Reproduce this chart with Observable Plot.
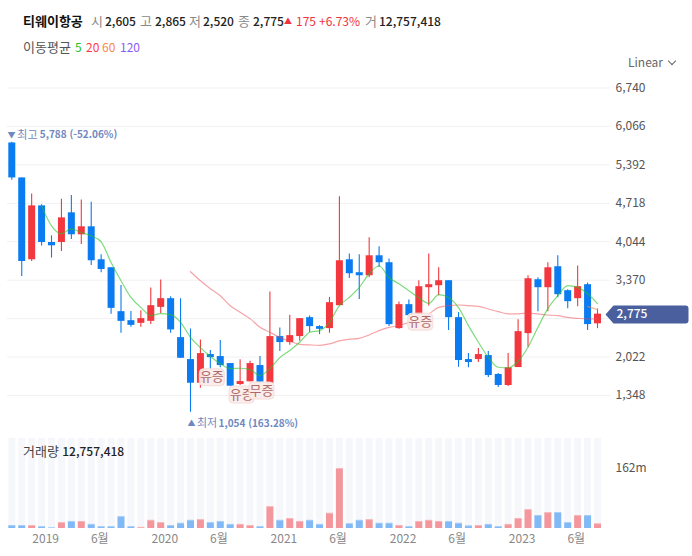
<!DOCTYPE html>
<html lang="ko">
<head>
<meta charset="utf-8">
<script src="https://cdn.jsdelivr.net/npm/d3@7"></script>
<script src="https://cdn.jsdelivr.net/npm/@observablehq/plot@0.6"></script>
<style>
html,body{margin:0;padding:0;background:#fff;width:692px;height:556px;overflow:hidden}
body{position:relative;font-family:"Noto Sans CJK KR","Noto Sans",sans-serif;font-size:12px;color:#222}
#main,#vol{position:absolute;left:0}
#main{top:0}#vol{top:430px}
svg{display:block}
.h{position:absolute;white-space:nowrap;line-height:16px}
.g{color:#8a8a8a;font-size:13px}.k{color:#222;font-weight:500}.r{color:#f0323c}
</style>
</head>
<body>
<div id="main"></div>
<div id="vol"></div>
<div class="h" style="left:23px;top:13px;font-weight:700;color:#111;font-size:13px">티웨이항공</div>
<div class="h g" style="left:91px;top:13px">시</div><div class="h k" style="left:105px;top:13px">2,605</div>
<div class="h g" style="left:140px;top:13px">고</div><div class="h k" style="left:155px;top:13px">2,865</div>
<div class="h g" style="left:189px;top:13px">저</div><div class="h k" style="left:203px;top:13px">2,520</div>
<div class="h g" style="left:238px;top:13px">종</div><div class="h k" style="left:253px;top:13px">2,775</div>
<div class="h r" style="left:284px;top:13px;font-size:8px">▲</div>
<div class="h r" style="left:296px;top:13px">175</div><div class="h r" style="left:319px;top:13px">+6.73%</div>
<div class="h g" style="left:365px;top:13px">거</div><div class="h k" style="left:379px;top:13px">12,757,418</div>
<div class="h" style="left:23px;top:39px;color:#555;font-size:13px">이동평균</div>
<div class="h" style="left:75px;top:39px;color:#22c322">5</div>
<div class="h" style="left:86px;top:39px;color:#ff3b4a">20</div>
<div class="h" style="left:102px;top:39px;color:#f98a4b">60</div>
<div class="h" style="left:120px;top:39px;color:#8a5cf6">120</div>
<div class="h" style="left:628px;top:54px;color:#666">Linear</div>
<div style="position:absolute;left:669px;top:58px;width:5px;height:5px;border-right:1px solid #666;border-bottom:1px solid #666;transform:rotate(45deg)"></div>
<div class="h" style="left:23px;top:443px;color:#444"><span style="font-size:13px">거래량</span> <span style="font-weight:500;color:#222">12,757,418</span></div>
<script>
const months = d3.utcMonth.range(new Date(Date.UTC(2018,8,1)), new Date(Date.UTC(2023,8,1))).map(d3.utcFormat("%Y-%m"));
const open  = [5776,5163,3728,4673,4031,4031,4551,4166,4306,3728,3588,2818,2660,2613,2648,2893,3046,2363,1978,1563,2066,2031,1908,1541,1588,1873,1553,2381,2276,2381,2713,2556,2521,2923,3728,3501,3448,3798,3676,2521,2941,2766,3238,3273,3361,2713,1978,1978,2048,1716,1523,1838,2433,3378,3238,3606,3186,3046,3291,2605];
const high  = [5788,5163,4883,4691,4148,4790,4853,4778,4738,3816,3588,3278,2823,2836,3233,3373,3081,3046,2515,2323,2136,2311,1908,1973,1948,2031,3163,2533,2753,2696,2743,2573,3068,4831,3828,3816,4113,3956,3740,2988,3023,3361,3828,3588,3361,2801,2083,2171,2118,1733,2083,2678,3448,3413,3676,3798,3203,3618,3320,2865];
const low   = [5123,3436,3698,3968,3758,3873,4083,3996,3628,3501,2771,2438,2543,2543,2591,2788,2438,2001,1054,1476,1786,1833,1511,1523,1588,1558,1553,2118,2228,2298,2456,2416,2438,2923,3401,3033,3413,3593,2556,2508,2700,2740,2918,3098,2486,1843,1833,1926,1663,1488,1506,1838,2193,2818,2818,3063,2871,2906,2486,2520];
const close = [5163,3698,4673,4031,3973,4463,4166,4306,3711,3558,2876,2648,2578,2696,2923,3046,2498,2001,1563,2083,2013,1873,1511,1593,1908,1581,2381,2276,2398,2696,2556,2508,2976,3711,3483,3448,3798,3676,2591,2941,2748,3256,3291,3361,2713,1961,1926,2066,1698,1523,1833,2468,3396,3238,3588,3116,2993,3256,2591,2775];
const volume = [8,8,8,5,2,16,19,19,11,5,5,32,5,3,22,16,8,14,22,24,16,19,11,11,8,5,59,22,27,19,22,11,41,162,13,22,24,14,14,8,5,19,22,19,19,14,7,8,11,5,11,27,51,35,43,43,16,35,35,12.757];
const ma5 = [4673,4323,4183,4271,4206,4148,4043,3681,3360,3068,2893,2748,2783,2766,2631,2368,2188,2031,1908,1820,1826,1803,1698,1820,2013,2136,2281,2456,2486,2631,2923,3068,3243,3483,3623,3413,3308,3186,3063,2963,3116,3068,2888,2573,2281,2018,1843,1833,1948,2193,2543,2871,3098,3273,3243,3133,2958];
const ma5Start = 3;
const ma20 = [3518,3360,3221,3098,2923,2806,2696,2543,2456,2368,2298,2246,2235,2228,2253,2305,2333,2351,2410,2486,2543,2573,2631,2690,2778,2893,2923,2935,2923,2911,2865,2818,2778,2778,2795,2778,2760,2748,2718,2701,2690,2690];
const ma20Start = 18;
const ma60 = [2911,2853];
const ma60Start = 58;
const priceTicks = [6740,6066,5392,4718,4044,3370,2696,2022,1348];
const priceLabelTicks = [6740,6066,5392,4718,4044,3370,2022,1348];
const xTicks = ["2019-01","2019-06","2020-01","2020-06","2021-01","2021-06","2022-01","2022-06","2023-01","2023-06"];
const xTickLabels = ["2019","6월","2020","6월","2021","6월","2022","6월","2023","6월"];
const lastPrice = 2775;
const badgeLabels = [
  {m:"2020-05", y:1668, t:"유증"},
  {m:"2020-08", y:1365, t:"유증"},
  {m:"2020-10", y:1435, t:"무증"},
  {m:"2022-02", y:2643, t:"유증"}
];

const candles = months.map((m,i)=>({m,o:open[i],h:high[i],l:low[i],c:close[i],v:volume[i]}));
const BLUE="#0a7bf0", RED="#f2383e";
const dirColor = d => d.c>=d.o ? RED : BLUE;
const xScale = {type:"point", domain:months, range:[11.3,597], padding:0};
const font = '"Noto Sans CJK KR","Noto Sans",sans-serif';

function rr(ctx,x0,y0,x1,y1,r){
  ctx.moveTo(x0+r,y0);ctx.lineTo(x1-r,y0);ctx.arcTo(x1,y0,x1,y0+r,r);
  ctx.lineTo(x1,y1-r);ctx.arcTo(x1,y1,x1-r,y1,r);
  ctx.lineTo(x0+r,y1);ctx.arcTo(x0,y1,x0,y1-r,r);
  ctx.lineTo(x0,y0+r);ctx.arcTo(x0,y0,x0+r,y0,r);ctx.closePath();
}
const badgeSymbol = {draw(ctx){rr(ctx,-12.5,-8.5,12.5,8.5,4);}};
const tagSymbol = {draw(ctx){
  ctx.moveTo(8,0.5);ctx.lineTo(16,-8.5);ctx.lineTo(88,-8.5);ctx.arcTo(91,-8.5,91,-5.5,3);
  ctx.lineTo(91,6.5);ctx.arcTo(91,9.5,88,9.5,3);ctx.lineTo(16,9.5);ctx.closePath();
}};

const badgeMarks = badgeLabels.flatMap(b=>[
  Plot.dot([b],{x:"m",y:"y",symbol:badgeSymbol,fill:"#fbecea",fillOpacity:0.93,stroke:"#f7dcd9",strokeWidth:1,dx:1.5}),
  Plot.text([b],{x:"m",y:"y",text:"t",fill:"#ad6b68",fontSize:13,dx:1.5})
]);
const note = "#7088c0";
const hiRow=[{m:months[0],y:high[0]}], loRow=[{m:"2020-03",y:1054}];

const main = Plot.plot({
  width:692,height:430,marginLeft:7,marginRight:82,marginTop:0,marginBottom:0,
  style:{fontFamily:font,fontSize:"12px",background:"transparent"},
  x:{...xScale,axis:null},
  y:{type:"linear",domain:[1348,6740],range:[395,87.5],axis:null},
  marks:[
    Plot.ruleY(priceTicks,{stroke:"#f1f1f3",strokeWidth:1}),
    Plot.axisY({anchor:"right",ticks:priceLabelTicks,tickSize:0,tickPadding:5,tickFormat:d3.format(","),label:null,fill:"#555",fontSize:12}),
    Plot.ruleX(candles,{x:"m",y1:"l",y2:"h",stroke:dirColor,strokeWidth:1.1}),
    Plot.ruleX(candles,{x:"m",y1:"o",y2:"c",stroke:dirColor,strokeWidth:7}),
    Plot.line(ma20,{x:(d,i)=>months[i+ma20Start],y:d=>d,stroke:"#ee4a52",strokeOpacity:0.5,strokeWidth:1.2,curve:"monotone-x"}),
    Plot.line(ma60,{x:(d,i)=>months[i+ma60Start],y:d=>d,stroke:"#f5894b",strokeOpacity:0.6,strokeWidth:1.2}),
    Plot.line(ma5,{x:(d,i)=>months[i+ma5Start],y:d=>d,stroke:"#27c427",strokeOpacity:0.6,strokeWidth:1.2,curve:"monotone-x"}),
    ...badgeMarks,
    Plot.text(hiRow,{x:"m",y:"y",text:()=>"▼",fill:note,fontSize:8,dx:-0.3,dy:-7,textAnchor:"middle"}),
    Plot.text(hiRow,{x:"m",y:"y",text:()=>"최고",fill:note,fontSize:11,dx:5.5,dy:-7,textAnchor:"start"}),
    Plot.text(hiRow,{x:"m",y:"y",text:()=>"5,788 (-52.06%)",fill:note,fontSize:10,fontWeight:600,dx:28,dy:-7,textAnchor:"start"}),
    Plot.text(loRow,{x:"m",y:"y",text:()=>"▲",fill:note,fontSize:8,dx:1,dy:11.5,textAnchor:"middle"}),
    Plot.text(loRow,{x:"m",y:"y",text:()=>"최저",fill:note,fontSize:11,dx:6.5,dy:11.5,textAnchor:"start"}),
    Plot.text(loRow,{x:"m",y:"y",text:()=>"1,054 (163.28%)",fill:note,fontSize:10,fontWeight:600,dx:28,dy:11.5,textAnchor:"start"}),
    Plot.dot([lastPrice],{x:()=>months[59],y:d=>d,symbol:tagSymbol,fill:"#4a5f9d"}),
    Plot.text([lastPrice],{x:()=>months[59],y:d=>d,text:d=>d3.format(",")(d),fill:"#fff",fontSize:12,fontWeight:500,dx:19,textAnchor:"start"})
  ]
});
document.getElementById("main").append(main);

const vol = Plot.plot({
  width:692,height:126,marginLeft:7,marginRight:82,marginTop:8,marginBottom:28,
  style:{fontFamily:font,fontSize:"12px",background:"transparent"},
  x:{...xScale,axis:null},
  y:{type:"linear",domain:[0,243],range:[98,8],axis:null},
  marks:[
    Plot.ruleX(months,{x:d=>d,y1:0,y2:243,stroke:"#f6f7fb",strokeWidth:7}),
    Plot.ruleX(candles,{x:"m",y1:0,y2:"v",stroke:dirColor,strokeOpacity:0.5,strokeWidth:7}),
    Plot.ruleX(candles,{x:"m",y1:d=>d.v-2.7,y2:"v",stroke:"#fff",strokeOpacity:0.3,strokeWidth:7}),
    Plot.axisY({anchor:"right",ticks:[162],tickSize:0,tickPadding:5,tickFormat:d=>d+"m",label:null,fill:"#555",fontSize:12}),
    Plot.axisX({anchor:"bottom",ticks:xTicks,tickSize:0,tickPadding:6,tickFormat:d=>xTickLabels[xTicks.indexOf(d)],label:null,textAnchor:"end",dx:7.5,fill:"#888",fontSize:12})
  ]
});
document.getElementById("vol").append(vol);
</script>
</body>
</html>
